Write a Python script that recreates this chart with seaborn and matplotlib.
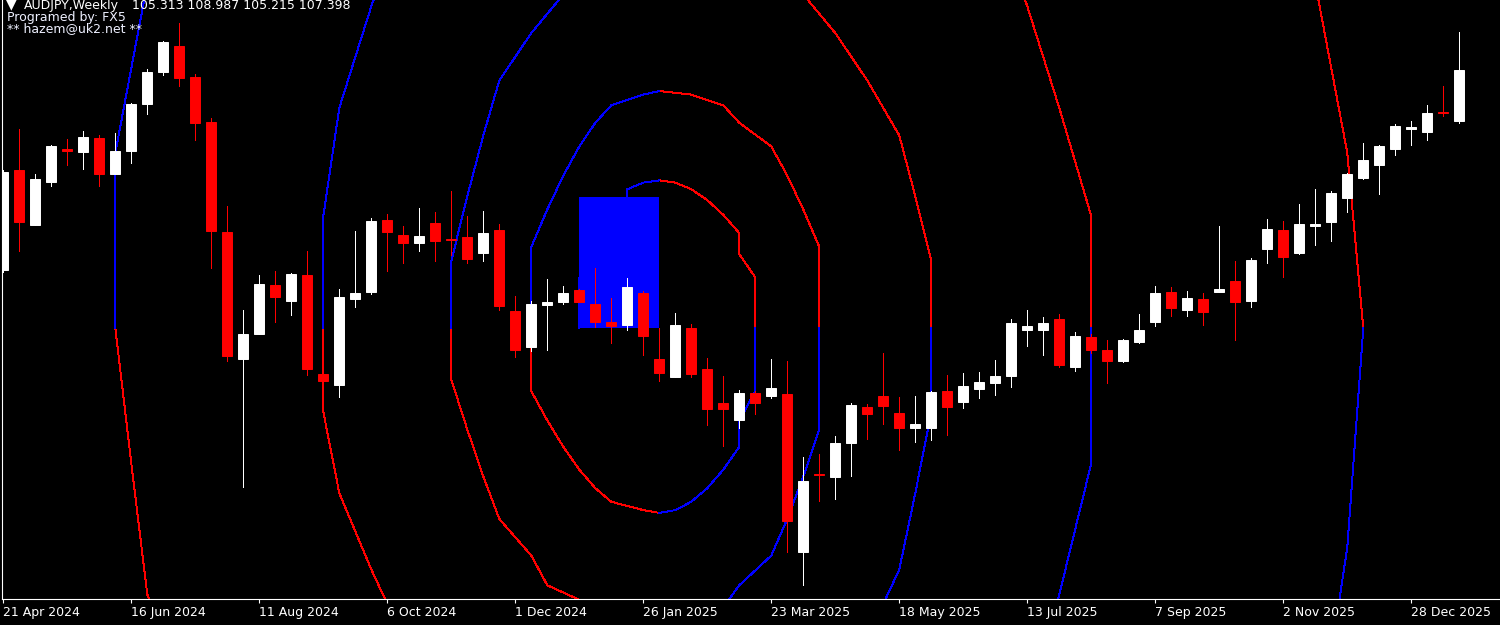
import matplotlib
matplotlib.use("Agg")
import matplotlib.pyplot as plt
import matplotlib.patches as mpatches
import seaborn as sns
import numpy as np
import pandas as pd

# chart header
symbol = "AUDJPY,Weekly"
header_ohlc = "105.313 108.987 105.215 107.398"
credit_lines = ["Programed by: FX5", "** hazem@uk2.net **"]

# weekly bars, first bar 21 Apr 2024
weeks = pd.date_range("2024-04-21", periods=92, freq="7D")

opens = [99.17, 103.30, 101.03, 102.80, 104.15, 104.03, 104.61, 103.11, 104.07, 106.00,
         107.32, 108.40, 107.12, 105.27, 100.73, 95.51, 96.53, 98.55, 97.91, 98.96,
         94.89, 94.45, 97.99, 98.25, 101.23, 100.60, 100.27, 101.11, 100.44, 100.52,
         99.85, 100.82, 97.48, 96.00, 97.73, 97.86, 98.34, 97.76, 97.04, 96.91,
         98.20, 95.50, 94.77, 96.78, 95.08, 93.69, 93.00, 94.10, 93.98, 94.07,
         87.55, 90.77, 90.65, 92.06, 93.53, 93.99, 93.28, 92.64, 92.64, 94.18,
         93.71, 94.25, 94.50, 94.82, 96.68, 96.68, 97.15, 95.18, 96.42, 95.87,
         95.43, 96.22, 97.04, 98.25, 97.53, 97.97, 98.27, 98.71, 97.91, 100.04,
         100.82, 99.88, 100.98, 101.13, 102.15, 102.97, 103.51, 104.17, 104.99, 104.87,
         105.68, 105.313]
highs = [103.30, 104.97, 103.11, 104.31, 104.56, 104.89, 104.71, 104.81, 106.04, 107.43,
         108.60, 109.34, 107.24, 105.43, 101.80, 97.52, 98.96, 99.11, 99.04, 99.93,
         95.02, 98.39, 100.77, 101.29, 101.47, 100.98, 101.72, 101.55, 102.41, 101.39,
         101.60, 101.06, 98.09, 97.89, 98.80, 98.50, 98.37, 99.26, 98.01, 98.85,
         98.29, 96.78, 97.40, 96.94, 95.56, 94.80, 94.23, 94.20, 95.50, 95.43,
         91.46, 91.57, 92.33, 93.67, 93.64, 95.76, 93.94, 93.99, 94.20, 94.84,
         94.92, 94.97, 95.46, 97.15, 97.52, 97.24, 97.35, 96.61, 96.53, 96.28,
         96.32, 97.35, 98.50, 98.47, 98.30, 98.22, 100.98, 99.53, 99.65, 101.28,
         101.19, 101.88, 102.51, 102.43, 103.18, 104.40, 104.31, 105.18, 105.30, 105.97,
         106.73, 108.987]
lows = [99.10, 99.96, 101.01, 102.61, 103.48, 103.34, 102.61, 103.11, 103.57, 105.61,
        107.22, 106.73, 104.53, 99.27, 95.40, 90.24, 96.53, 97.04, 97.33, 94.86,
        94.45, 93.95, 97.65, 98.16, 99.13, 99.45, 99.95, 99.53, 99.80, 99.45,
        99.52, 97.50, 95.59, 95.84, 95.89, 97.78, 97.83, 96.83, 96.14, 96.71,
        95.68, 94.58, 94.74, 94.74, 92.80, 91.93, 92.64, 93.25, 93.90, 87.53,
        86.20, 89.67, 89.75, 90.70, 92.21, 92.82, 91.77, 92.10, 92.15, 92.39,
        93.49, 93.90, 94.03, 94.33, 96.05, 95.68, 95.18, 94.99, 95.76, 94.50,
        95.38, 96.14, 96.87, 97.29, 97.29, 96.91, 98.27, 96.30, 97.65, 99.44,
        98.86, 99.81, 100.18, 100.37, 101.54, 102.92, 102.31, 103.89, 104.33, 104.54,
        105.53, 105.215]
closes = [103.20, 101.13, 102.92, 104.28, 104.05, 104.64, 103.13, 104.07, 106.00, 107.32,
          108.57, 107.06, 105.22, 100.78, 95.64, 96.53, 98.60, 98.06, 99.01, 95.10,
          94.58, 98.06, 98.22, 101.19, 100.75, 100.26, 100.57, 100.36, 100.42, 99.63,
          100.68, 97.70, 95.89, 97.76, 97.83, 98.22, 97.86, 97.04, 96.84, 98.47,
          96.43, 94.94, 96.91, 94.90, 93.46, 93.46, 94.10, 93.69, 94.31, 88.81,
          90.47, 90.73, 92.05, 93.61, 93.23, 93.56, 92.64, 92.82, 94.15, 93.54,
          94.40, 94.56, 94.81, 96.99, 96.86, 96.99, 95.27, 96.45, 95.89, 95.43,
          96.28, 96.69, 98.22, 97.61, 98.01, 97.42, 98.37, 97.86, 99.58, 100.85,
          99.72, 101.06, 101.05, 102.34, 103.11, 103.71, 104.28, 105.10, 105.05, 105.64,
          105.63, 107.398]

# time-cycle ellipses (bar index / price units)
ellipse_center_bar = 41.5
ellipse_center_price = 96.78
ellipse_up = [6.08, 9.76, 15.86, 26.5, 41.5]
ellipse_down = [7.62, 12.24, 19.9, 32.1, 52.0]
ellipse_left_up = [5, 8, 13, 21, 34.4]
ellipse_left_down = [8, 13, 21, 34, 55]
ellipse_right = [6, 10.4, 17, 27, 44]

# blue box
box_from = "2024-12-29"
box_to = "2025-02-02"
box_low = 96.78
box_high = 102.19

BULL = "#ffffff"
BEAR = "#ff0000"
BLUE = "#0000ff"

sns.set_style("dark", {"axes.facecolor": "black", "figure.facecolor": "black"})
plt.rcParams["font.family"] = ["DejaVu Sans"]

fig = plt.figure(figsize=(15, 6.25), dpi=100, facecolor="black")
ax = fig.add_axes([2 / 1500, 26.4 / 625, 1 - 2 / 1500, 1 - 26.4 / 625])
ax.set_facecolor("black")

df = pd.DataFrame({"date": weeks, "open": opens, "high": highs,
                   "low": lows, "close": closes})
df["pos"] = np.arange(len(df))
df["color"] = np.where(df["close"] > df["open"], BULL, BEAR)

# ellipse rings, drawn in 10 degree steps snapped to bars
quads = [(0, 90, BEAR, "r", "u"), (90, 180, BLUE, "lu", "u"),
         (180, 270, BEAR, "ld", "d"), (270, 360, BLUE, "r", "d")]
for up, dn, lu, ld, r in zip(ellipse_up, ellipse_down, ellipse_left_up,
                             ellipse_left_down, ellipse_right):
    rad = {"r": r, "lu": lu, "ld": ld, "u": up, "d": dn}
    for a0, a1, col, ka, kb in quads:
        ang = np.deg2rad(np.arange(a0, a1 + 1, 10))
        xs = np.floor(ellipse_center_bar + rad[ka] * np.cos(ang))
        ys = ellipse_center_price + rad[kb] * np.sin(ang)
        ax.plot(xs, ys, color=col, lw=0.7, zorder=1, antialiased=False)

# box
b0 = int(np.where(weeks == pd.Timestamp(box_from))[0][0])
b1 = int(np.where(weeks == pd.Timestamp(box_to))[0][0])
ax.add_patch(mpatches.Rectangle((b0, box_low), b1 - b0, box_high - box_low,
                                facecolor=BLUE, edgecolor="none", zorder=2))

# candles
ax.vlines(df["pos"], df["low"], df["high"], colors=df["color"], lw=0.7,
          zorder=3, antialiased=False)
body_lo = df[["open", "close"]].min(axis=1)
body_h = (df["close"] - df["open"]).abs()
ax.bar(df["pos"], body_h, bottom=body_lo, width=0.62, color=df["color"],
       edgecolor=df["color"], linewidth=0.7, zorder=4)

ax.set_xlim((2 - 3.3) / 16, (1500 - 3.3) / 16)
ax.set_ylim(85.63, 110.29)

ticks = list(range(0, len(weeks), 8))
ax.set_xticks(ticks)
ax.set_xticklabels([f"{weeks[i].day} {weeks[i].strftime('%b %Y')}" for i in ticks])
for lbl in ax.get_xticklabels():
    lbl.set_horizontalalignment("left")
ax.tick_params(axis="x", colors="white", labelcolor="white", length=3, width=0.8,
               pad=2, labelsize=9, direction="out", bottom=True)
ax.set_yticks([])
ax.grid(False)
for side in ["top", "right"]:
    ax.spines[side].set_visible(False)
for side in ["left", "bottom"]:
    ax.spines[side].set_color("white")
    ax.spines[side].set_linewidth(0.8)

# header text
fig.text(6 / 1500, 1 - 8 / 625, "\u25bc", color="white", fontsize=10, va="baseline")
fig.text(24 / 1500, 1 - 9 / 625, symbol, color="white", fontsize=9, va="baseline")
fig.text(132 / 1500, 1 - 9 / 625, header_ohlc, color="white", fontsize=9, va="baseline")
fig.text(7 / 1500, 1 - 21 / 625, credit_lines[0], color="#eef0ff", fontsize=9, va="baseline")
fig.text(7 / 1500, 1 - 32 / 625, credit_lines[1], color="#eef0ff", fontsize=9, va="baseline")

fig.savefig("out.png", dpi=100, facecolor="black")
